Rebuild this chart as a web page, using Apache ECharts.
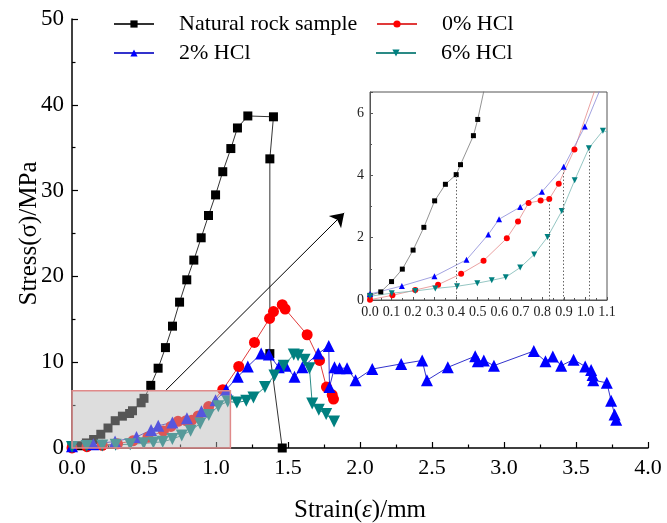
<!DOCTYPE html>
<html>
<head>
<meta charset="utf-8">
<script src="https://cdn.jsdelivr.net/npm/echarts@6/dist/echarts.min.js"></script>
<style>
  html, body { margin: 0; padding: 0; background: #fff; }
  #chart { width: 667px; height: 523px; }
</style>
</head>
<body>
<div id="chart"></div>
<script>
// Stress–strain curves, strain in mm, stress in MPa
const natX = [0, 0.05, 0.1, 0.15, 0.2, 0.25, 0.3, 0.35, 0.4, 0.42, 0.48, 0.5, 0.547, 0.598, 0.649, 0.698, 0.747, 0.797, 0.846, 0.897, 0.948, 0.997, 1.047, 1.103, 1.149, 1.221, 1.399, 1.374, 1.374, 1.46];
const natY = [0.15, 0.26, 0.59, 0.99, 1.6, 2.33, 3.18, 3.71, 4.02, 4.34, 5.27, 5.79, 7.3, 9.3, 11.7, 14.2, 17.0, 19.6, 21.9, 24.5, 27.1, 29.5, 32.2, 34.9, 37.3, 38.7, 38.6, 33.7, 11.0, 0];

const hcl0X = [0, 0.104, 0.21, 0.316, 0.423, 0.527, 0.635, 0.687, 0.736, 0.792, 0.832, 0.876, 0.949, 1.047, 1.158, 1.267, 1.372, 1.399, 1.46, 1.48, 1.633, 1.719, 1.767, 1.807, 1.816];
const hcl0Y = [0.01, 0.15, 0.32, 0.49, 0.84, 1.26, 1.98, 2.52, 3.11, 3.19, 3.24, 3.73, 4.83, 6.8, 9.5, 12.3, 15.1, 15.9, 16.7, 16.2, 13.2, 10.2, 7.1, 6.2, 5.7];

const hcl2X = [0, 0.148, 0.299, 0.448, 0.549, 0.599, 0.697, 0.798, 0.899, 0.997, 1.071, 1.151, 1.221, 1.314, 1.367, 1.436, 1.483, 1.545, 1.6, 1.71, 1.783, 1.788, 1.823, 1.858, 1.91, 1.969, 2.085, 2.286, 2.432, 2.465, 2.61, 2.8, 2.818, 2.86, 2.93, 3.207, 3.288, 3.339, 3.397, 3.483, 3.564, 3.605, 3.615, 3.62, 3.714, 3.744, 3.768, 3.779];
const hcl2Y = [0.19, 0.45, 0.76, 1.29, 2.1, 2.59, 2.98, 3.47, 4.27, 5.56, 6.8, 8.3, 9.5, 11.0, 10.9, 9.4, 9.6, 8.3, 9.4, 11.0, 11.9, 7.1, 9.4, 9.3, 9.3, 7.9, 9.2, 9.8, 10.2, 7.9, 9.4, 10.7, 10.1, 10.2, 9.6, 11.3, 10.1, 10.65, 9.6, 10.3, 9.5, 9.1, 8.5, 7.9, 7.6, 5.5, 3.9, 3.3];

const hcl6X = [0, 0.101, 0.21, 0.303, 0.404, 0.498, 0.565, 0.63, 0.697, 0.762, 0.824, 0.89, 0.95, 1.016, 1.081, 1.145, 1.21, 1.26, 1.34, 1.406, 1.47, 1.54, 1.57, 1.615, 1.649, 1.668, 1.714, 1.765, 1.82];
const hcl6Y = [0.12, 0.22, 0.29, 0.37, 0.44, 0.54, 0.63, 0.73, 1.04, 1.46, 2.02, 2.85, 3.84, 4.87, 5.43, 5.3, 5.5, 5.9, 7.1, 8.45, 9.6, 10.9, 10.8, 10.3, 9.3, 5.2, 4.45, 3.95, 3.1];

// points marked with dotted drop lines in the enlarged view (index into each series)
const dropIndex = { nat: 8, hcl0: 10, hcl2: 8, hcl6: 13 };

// enlarged window (strain range, stress range)
const zoomX = [0, 1.1];
const zoomY = [0, 6.67];

// annotation arrow pointing to the enlarged view
const arrowFrom = [0.65, 6.7];
const arrowTo = [1.89, 27.4];

const xTicks = { min: 0, max: 4, step: 0.5 };
const yTicks = { min: 0, max: 50, step: 10 };

const FONT = 'Liberation Serif';

const seriesDefs = [
  { name: 'Natural rock sample', x: natX, y: natY, symbol: 'rect', size: 9, insetSize: 5, rotate: 0,
    color: '#000000', line: '#333333', insetLine: '#777777', drop: dropIndex.nat },
  { name: '0% HCl', x: hcl0X, y: hcl0Y, symbol: 'circle', size: 11, insetSize: 6, rotate: 0,
    color: '#ff0000', line: '#e03a3a', insetLine: '#e58a8a', drop: dropIndex.hcl0 },
  { name: '2% HCl', x: hcl2X, y: hcl2Y, symbol: 'triangle', size: 12, insetSize: 6, rotate: 0,
    color: '#0000ff', line: '#3333cc', insetLine: '#8a8ad8', drop: dropIndex.hcl2 },
  { name: '6% HCl', x: hcl6X, y: hcl6Y, symbol: 'triangle', size: 12, insetSize: 6, rotate: 180,
    color: '#008080', line: '#2a8a85', insetLine: '#7ab8b4', drop: dropIndex.hcl6 }
];

function pairs(xs, ys) { return xs.map((v, i) => [v, ys[i]]); }

const series = [];
seriesDefs.forEach(d => {
  series.push({
    name: d.name, type: 'line', xAxisIndex: 0, yAxisIndex: 0,
    data: pairs(d.x, d.y),
    symbol: d.symbol, symbolSize: d.size, symbolRotate: d.rotate,
    itemStyle: { color: d.color },
    lineStyle: { color: d.line, width: 1 },
    z: 3, animation: false
  });
});
seriesDefs.forEach(d => {
  series.push({
    name: d.name + ' (detail)', type: 'line', xAxisIndex: 1, yAxisIndex: 1,
    data: pairs(d.x, d.y),
    symbol: d.symbol, symbolSize: d.insetSize, symbolRotate: d.rotate,
    itemStyle: { color: d.color },
    lineStyle: { color: d.insetLine, width: 0.8 },
    clip: true, z: 4, animation: false,
    markLine: {
      silent: true, symbol: ['none', 'none'], animation: false,
      label: { show: false },
      lineStyle: { color: '#666', width: 1, type: [1.5, 2] },
      data: [[{ coord: [d.x[d.drop], 0] }, { coord: [d.x[d.drop], d.y[d.drop]] }]]
    }
  });
});

// translucent highlight box over the enlarged region
series.push({
  name: 'zoom-box', type: 'custom', xAxisIndex: 0, yAxisIndex: 0, z: 10,
  silent: true, animation: false,
  encode: { x: [0, 2], y: [1, 3] },
  data: [[zoomX[0], zoomY[0], zoomX[1], zoomY[1]]],
  renderItem: function (params, api) {
    const p0 = api.coord([api.value(0), api.value(1)]);
    const p1 = api.coord([api.value(2), api.value(3)]);
    return {
      type: 'rect',
      shape: { x: p0[0], y: p1[1], width: p1[0] - p0[0], height: p0[1] - p1[1] },
      style: { fill: 'rgba(182,182,182,0.47)', stroke: '#e08a8a', lineWidth: 1.5 }
    };
  }
});

// arrow from the box to the enlarged view
series.push({
  name: 'arrow', type: 'line', xAxisIndex: 0, yAxisIndex: 0, data: [], z: 11,
  markLine: {
    silent: true, animation: false,
    symbol: ['none', 'arrow'], symbolSize: 13,
    label: { show: false },
    lineStyle: { color: '#000', width: 1, type: 'solid' },
    data: [[{ coord: arrowFrom }, { coord: arrowTo }]]
  }
});

function legendAt(name, left, top) {
  return {
    data: [name], left: left, top: top, padding: 0,
    itemWidth: 40, itemHeight: 9, itemGap: 0,
    formatter: n => '{g|}' + n,
    textStyle: {
      fontFamily: FONT, fontSize: 22, color: '#000',
      rich: { g: { width: 20 } }
    }
  };
}

const chart = echarts.init(document.getElementById('chart'), null, { renderer: 'canvas' });
chart.setOption({
  animation: false,
  backgroundColor: '#fff',
  textStyle: { fontFamily: FONT },
  legend: [
    legendAt('Natural rock sample', 113, 13),
    legendAt('0% HCl', 376, 13),
    legendAt('2% HCl', 113, 42),
    legendAt('6% HCl', 375, 42)
  ],
  grid: [
    { left: 72, right: 19, top: 19, bottom: 75, outerBoundsMode: 'none', containLabel: false },
    { left: 370, top: 92, width: 237, height: 208, show: true,
      borderColor: '#555', borderWidth: 1, outerBoundsMode: 'none', containLabel: false }
  ],
  xAxis: [
    {
      type: 'value', gridIndex: 0, min: xTicks.min, max: xTicks.max, interval: xTicks.step,
      name: '{a|Strain(}{b|ε}{a|)/mm}', nameLocation: 'middle', nameGap: 50,
      nameMoveOverlap: false,
      nameTextStyle: {
        rich: {
          a: { fontFamily: FONT, fontSize: 25, color: '#000' },
          b: { fontFamily: FONT, fontSize: 25, fontStyle: 'italic', color: '#000' }
        }
      },
      axisLine: { lineStyle: { color: '#000', width: 1.5 } },
      axisTick: { inside: true, length: 6, lineStyle: { color: '#000', width: 1.2 } },
      minorTick: { show: true, splitNumber: 2, length: 3.5, lineStyle: { color: '#000', width: 1.2 } },
      axisLabel: { fontFamily: FONT, fontSize: 22, color: '#000', margin: 9,
        formatter: v => v.toFixed(1) },
      splitLine: { show: false }
    },
    {
      type: 'value', gridIndex: 1, min: zoomX[0], max: zoomX[1], interval: 0.1,
      axisLine: { lineStyle: { color: '#555', width: 1 } },
      axisTick: { inside: true, length: 3, lineStyle: { color: '#555' } },
      minorTick: { show: true, splitNumber: 2, length: 2, lineStyle: { color: '#555' } },
      axisLabel: { fontFamily: FONT, fontSize: 14, color: '#222', margin: 5,
        formatter: v => v.toFixed(1) },
      splitLine: { show: false }
    }
  ],
  yAxis: [
    {
      type: 'value', gridIndex: 0, min: yTicks.min, max: yTicks.max, interval: yTicks.step,
      name: 'Stress(σ)/MPa', nameLocation: 'middle', nameGap: 30,
      nameMoveOverlap: false,
      nameTextStyle: { fontFamily: FONT, fontSize: 25, color: '#000' },
      axisLine: { lineStyle: { color: '#000', width: 1.5 } },
      axisTick: { inside: true, length: 6, lineStyle: { color: '#000', width: 1.2 } },
      minorTick: { show: true, splitNumber: 2, length: 3.5, lineStyle: { color: '#000', width: 1.2 } },
      axisLabel: { fontFamily: FONT, fontSize: 23, color: '#000', margin: 8 },
      splitLine: { show: false }
    },
    {
      type: 'value', gridIndex: 1, min: zoomY[0], max: zoomY[1], interval: 2,
      axisLine: { lineStyle: { color: '#555', width: 1 } },
      axisTick: { inside: true, length: 3, lineStyle: { color: '#555' } },
      minorTick: { show: true, splitNumber: 2, length: 2, lineStyle: { color: '#555' } },
      axisLabel: { fontFamily: FONT, fontSize: 14, color: '#222', margin: 6, showMaxLabel: false },
      splitLine: { show: false }
    }
  ],
  series: series
});
</script>
</body>
</html>
